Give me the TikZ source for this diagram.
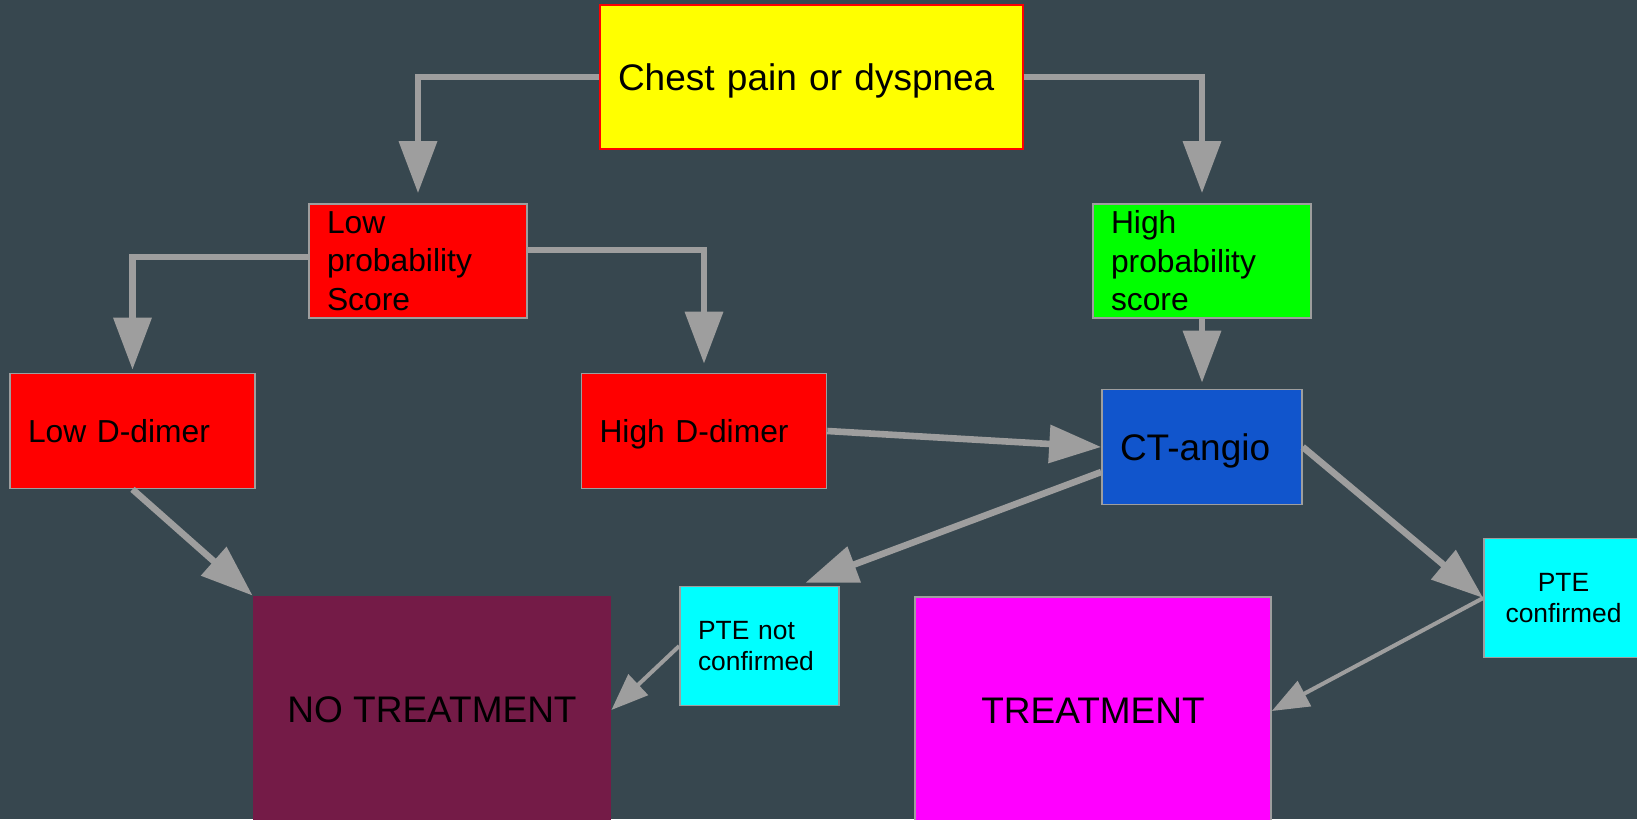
\documentclass[tikz,border=0pt]{standalone}
\usepackage{fontspec}
\setmainfont{Liberation Sans}
\usetikzlibrary{arrows.meta}

\definecolor{slate}{HTML}{37474F}
\definecolor{wire}{HTML}{9E9E9E}
\definecolor{maroon}{HTML}{741B47}
\definecolor{ctblue}{HTML}{1155CC}
\definecolor{chestyellow}{HTML}{FFFF00}
\definecolor{scorered}{HTML}{FF0000}
\definecolor{scoregreen}{HTML}{00FF00}
\definecolor{ptecyan}{HTML}{00FFFF}
\definecolor{treatpink}{HTML}{FF00FF}

\tikzset{
  card/.style={draw=wire,line width=0.8pt,inner xsep=9pt,inner ysep=0pt,align=left},
  oneline/.style={text depth=0pt},
  flow/.style={draw=wire,line width=3.3pt,-{Triangle[length=26pt,width=18.5pt]}},
  thinflow/.style={draw=wire,line width=2pt,-{Triangle[length=18.5pt,width=14pt]}}
}

\begin{document}
\begin{tikzpicture}[x=0.5pt,y=-0.5pt]
    \pgfmathsetmacro{\scorewidth}{109-18}
    \pgfmathsetmacro{\dimerwidth}{122.5-18}
    \pgfmathsetmacro{\ptewidth}{79.5-18}
    \providecommand{\bigfont}{\fontsize{18.5}{22}\selectfont}
    \providecommand{\midfont}{\fontsize{15.9}{19.3}\selectfont}
    \providecommand{\smallfont}{\fontsize{13.2}{15.7}\selectfont}
    \fill[slate] (0,0) rectangle (1637,819);
    \useasboundingbox (0,0) rectangle (1637,819);
    \clip (0,0) rectangle (1637,819);
    % boxes
    \node[card,oneline,draw=scorered,fill=chestyellow,text width=193.5pt,minimum height=72pt,font=\bigfont] (chest) at (811.5,77) {Chest pain or dyspnea};
    \node[card,fill=scorered,text width=\scorewidth pt,minimum height=57pt,font=\midfont] (lowscore) at (418,261) {Low\\probability\\Score};
    \node[card,fill=scoregreen,text width=\scorewidth pt,minimum height=57pt,font=\midfont] (highscore) at (1202,261) {High\\probability\\score};
    \node[card,fill=scorered,text width=\dimerwidth pt,minimum height=57.5pt,font=\midfont] (lowdimer) at (132.5,431) {Low D-dimer};
    \node[card,oneline,fill=scorered,text width=\dimerwidth pt,minimum height=57.5pt,font=\midfont] (highdimer) at (704,431) {High D-dimer};
    \node[card,oneline,fill=ctblue,text width=82pt,minimum height=57.5pt,font=\bigfont] (ctangio) at (1202,447) {CT-angio};
    \node[card,fill=ptecyan,text width=\ptewidth pt,minimum height=59.5pt,font=\smallfont] (ptenot) at (759.5,646) {PTE not\\confirmed};
    \node[card,fill=ptecyan,text width=\ptewidth pt,minimum height=59.5pt,font=\smallfont,align=center] (pteyes) at (1563.5,598) {PTE\\confirmed};
    \node[fill=maroon,minimum width=179pt,minimum height=114pt,inner sep=0pt,font=\bigfont] (notreat) at (432,710) {NO TREATMENT};
    \node[card,fill=treatpink,minimum width=178pt,minimum height=114pt,inner sep=0pt,align=center,font=\bigfont] (treat) at (1093,711) {TREATMENT};
    % arrows
    \draw[flow,shorten >=5pt] (chest.west) -| (lowscore.north);
    \draw[flow,shorten >=5pt] (chest.east) -| (highscore.north);
    \draw[flow,shorten >=1.5pt] ([yshift=2pt]lowscore.west) -| (lowdimer.north);
    \draw[flow,shorten >=4.5pt] ([yshift=5.5pt]lowscore.east) -| (highdimer.north);
    \draw[flow,shorten >=3pt] (highscore.south) -- (ctangio.north);
    \draw[flow] (highdimer.east) -- (ctangio.west);
    \draw[flow] ([yshift=-12.5pt]ctangio.west) -- ([xshift=23pt,yshift=1.5pt]ptenot.north);
    \draw[flow] (ctangio.east) -- (pteyes.west);
    \draw[flow] (lowdimer.south) -- (notreat.north west);
    \draw[thinflow] (ptenot.west) -- (notreat.east);
    \draw[thinflow] (pteyes.west) -- (treat.east);
\end{tikzpicture}
\end{document}
